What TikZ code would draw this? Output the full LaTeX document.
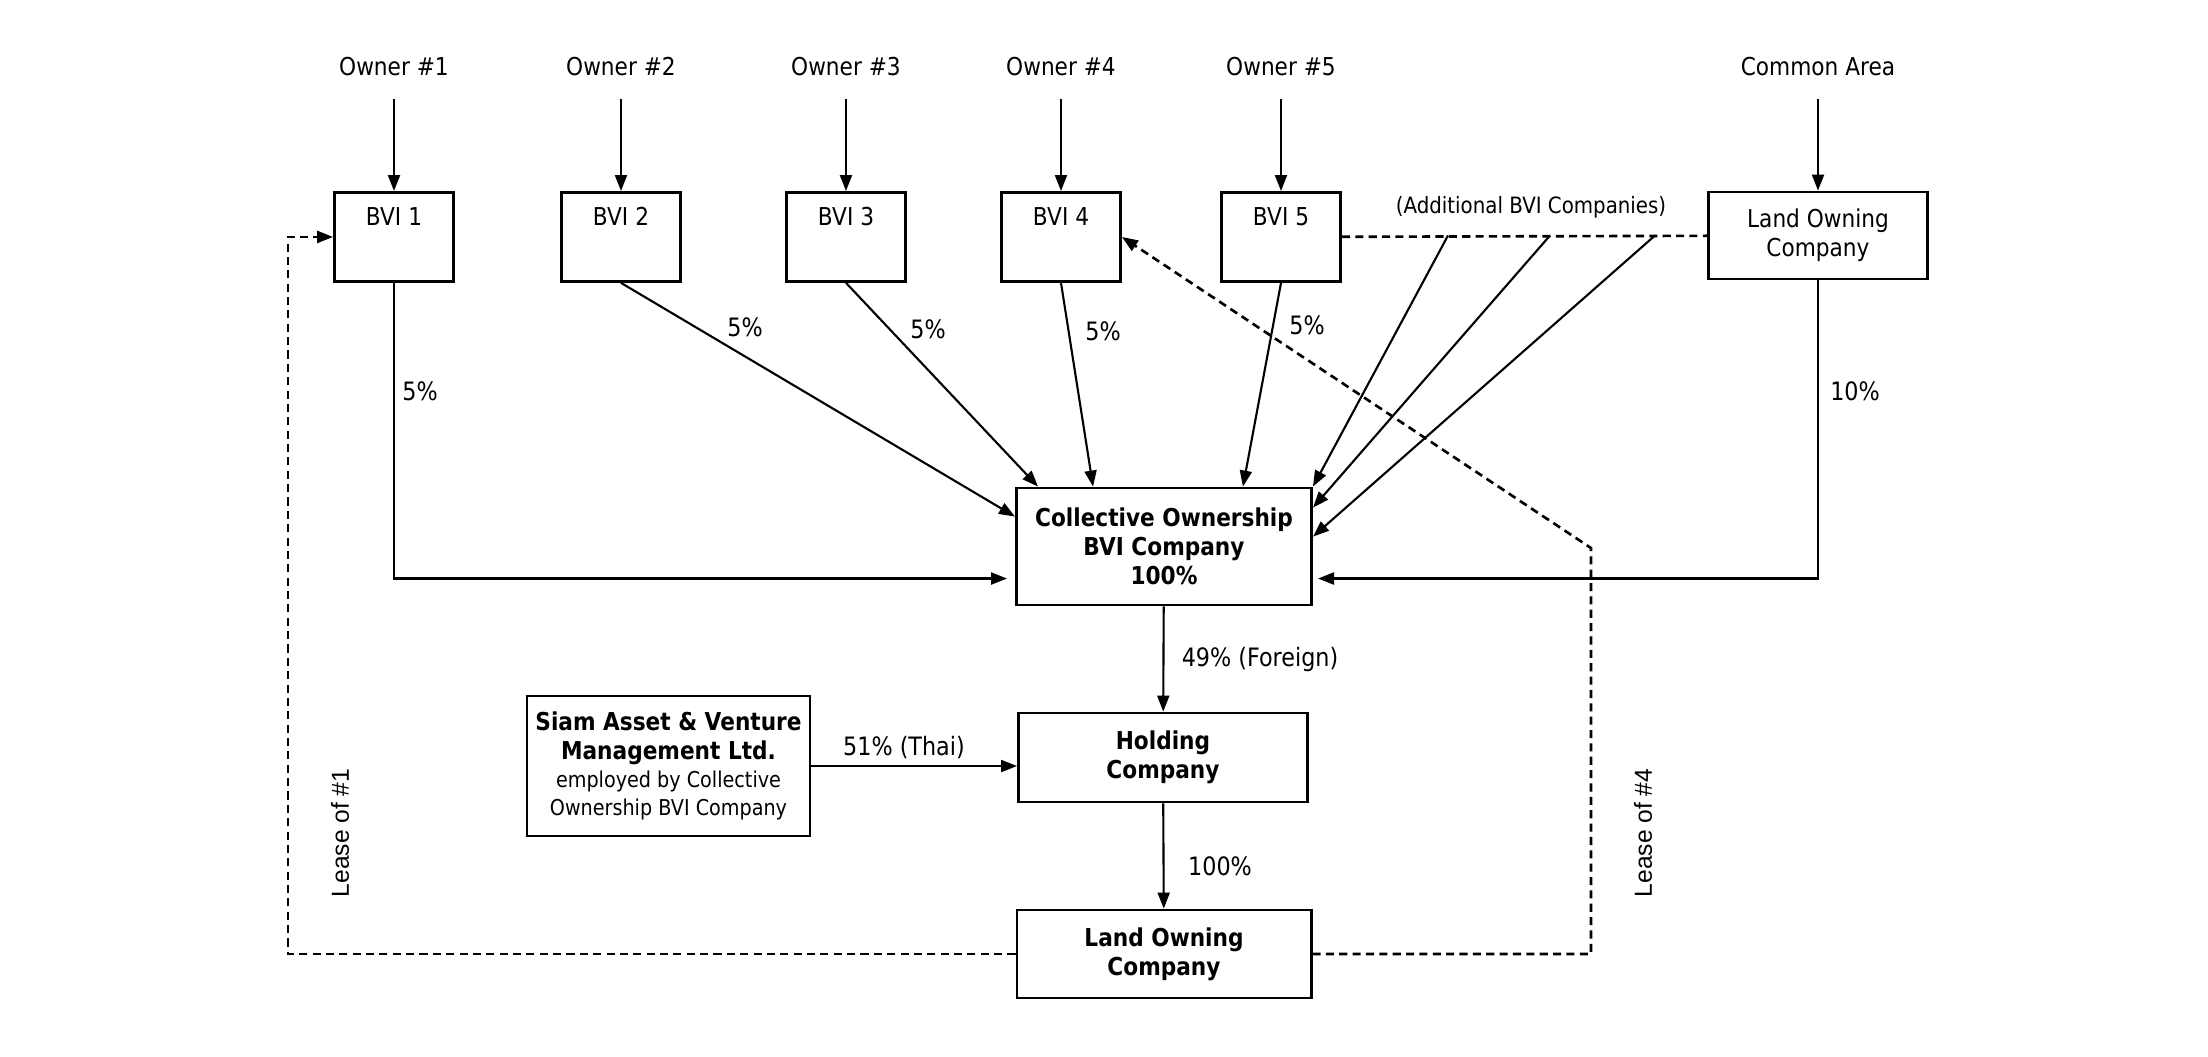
\documentclass[tikz,border=0pt]{standalone}
\usepackage{fontspec}
\setmainfont{DejaVu Sans}[FakeStretch=0.88]
\newfontfamily\leasefont{Liberation Sans}
\usetikzlibrary{arrows.meta}

\begin{document}
\begin{tikzpicture}[x={(0.01cm,0cm)}, y={(0cm,-0.01cm)},
  >={Triangle[length=0.16cm,width=0.12cm]}]
\tikzstyle{owner}=[inner sep=0.22cm, font=\fontsize{7}{8.4}\selectfont]
\tikzstyle{bvi}=[draw, line width=0.8pt, anchor=north, inner sep=0pt,
  minimum width=1.19cm, text height=0.33cm, text depth=0.56cm,
  font=\fontsize{7}{8.4}\selectfont]
\tikzstyle{company}=[draw, line width=0.8pt, align=center, inner sep=0pt,
  font=\fontsize{7}{8.3}\selectfont]
\tikzstyle{boldco}=[company, font=\bfseries\fontsize{7}{8.3}\selectfont]
\tikzstyle{pct}=[inner sep=0pt, font=\fontsize{7.2}{8.6}\selectfont]
\tikzstyle{share}=[->, line width=0.6pt]
\tikzstyle{lease}=[line width=0.75pt, dash pattern=on 2.3pt off 1.5pt]
\tikzstyle{leasetext}=[inner sep=0pt, rotate=90, font=\leasefont\fontsize{7}{8.4}\selectfont]

\useasboundingbox (0,0) rectangle (2208,1056);

% owners
\node[owner] (o1) at (394,67) {Owner \#1};
\node[owner] (o2) at (621,67) {Owner \#2};
\node[owner] (o3) at (846,67) {Owner \#3};
\node[owner] (o4) at (1061,67) {Owner \#4};
\node[owner] (o5) at (1281,67) {Owner \#5};
\node[owner] (oc) at (1818,67) {Common Area};

% first row of companies
\node[bvi] (b1) at (394,191) {BVI 1};
\node[bvi] (b2) at (621,191) {BVI 2};
\node[bvi] (b3) at (846,191) {BVI 3};
\node[bvi] (b4) at (1061,191) {BVI 4};
\node[bvi] (b5) at (1281,191) {BVI 5};
\node[company, minimum width=2.19cm, minimum height=0.87cm] (lt)
      at (1818,235.5) {Land Owning\\Company};
\node[inner sep=0pt, font=\fontsize{6.4}{7.6}\selectfont] (ad)
      at (1531,207) {(Additional BVI Companies)};

% middle and bottom companies
\node[boldco, minimum width=2.95cm, minimum height=1.17cm] (co)
      at (1164,546.5) {Collective Ownership\\BVI Company\\100\%};
\node[boldco, minimum width=2.89cm, minimum height=0.89cm] (ho)
      at (1163,757.5) {Holding\\Company};
\node[boldco, minimum width=2.94cm, minimum height=0.88cm] (lo)
      at (1164,954) {Land Owning\\Company};
\node[company, minimum width=2.83cm, minimum height=1.40cm,
      font=\fontsize{6.2}{8}\selectfont] (sa) at (668.5,766)
      {{\bfseries\fontsize{7}{8}\selectfont Siam Asset \& Venture}\\
       {\bfseries\fontsize{7}{8}\selectfont Management Ltd.}\\
       employed by Collective\\Ownership BVI Company};

% owners into BVIs
\draw[share] (o1) -- (b1);
\draw[share] (o2) -- (b2);
\draw[share] (o3) -- (b3);
\draw[share] (o4) -- (b4);
\draw[share] (o5) -- (b5);
\draw[share] (oc) -- (lt);

% BVIs into collective ownership
\draw[share, shorten >=0.08cm] (b1.south) |- ([yshift=-0.32cm]co.west);
\draw[share] (b2.south) -- ([yshift=-0.3cm]co.north west);
\draw[share] (b3.south) -- ([xshift=0.23cm]co.north west);
\draw[share] (b4.south) -- ([xshift=0.78cm]co.north west);
\draw[share] (b5.south) -- ([xshift=-0.7cm]co.north east);
\draw[share, shorten >=0.05cm] (lt.south) |- ([yshift=-0.32cm]co.east);

% additional BVI companies
\draw[lease] (b5) -- (lt);
\coordinate (a1) at (1448,235.5);
\coordinate (a2) at (1550,235.5);
\coordinate (a3) at (1655,235.5);
\draw[share] (a1) -- (co.north east);
\draw[share] (a2) -- ([yshift=-0.21cm]co.north east);
\draw[share] (a3) -- ([yshift=-0.5cm]co.north east);

% holding chain
\draw[share] (co) -- (ho);
\draw[share] (ho) -- (lo);
\draw[share] (sa.east) -- (sa.east -| ho.west);

% leases
\draw[lease, ->] (lo.west) -| ([xshift=-0.45cm]b1.west) -- (b1.west);
\coordinate (c4) at (1591,548);
\draw[lease, ->] (lo.east) -| (c4) -- (b4.east);
\node[leasetext] (l1) at (340,833) {Lease of \#1};
\node[leasetext] (l4) at (1643,833) {Lease of \#4};

% shares
\node[pct] (p1) at (420,391) {5\%};
\node[pct] (p2) at (745,327) {5\%};
\node[pct] (p3) at (928,329) {5\%};
\node[pct] (p4) at (1103,331) {5\%};
\node[pct] (p5) at (1307,325) {5\%};
\node[pct] (p6) at (1855,391) {10\%};
\node[pct] (p7) at (1260,659) {49\% (Foreign)};
\node[pct] (p8) at (904,748) {51\% (Thai)};
\node[pct] (p9) at (1220,866) {100\%};
\end{tikzpicture}
\end{document}
